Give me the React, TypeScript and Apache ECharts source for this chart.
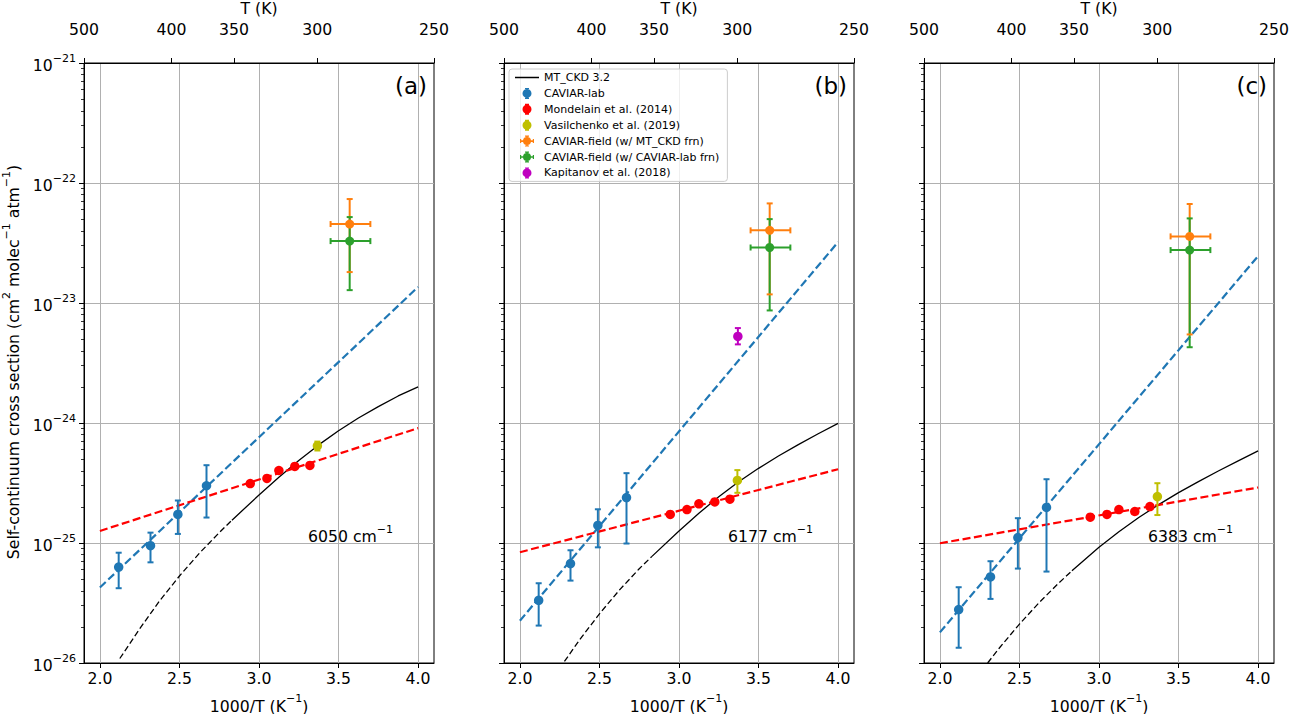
import React, { useEffect, useRef } from 'react';
import * as echarts from 'echarts';

// x positions are 1000/T (K^-1)
const labX = [2.118, 2.318, 2.49, 2.67];
const mondelainX = [2.945, 3.05, 3.125, 3.225, 3.32];
const vasilchenkoX = 3.367;
const kapitanovX = 3.37;
const fieldX = 3.57;
const fieldXErr = [3.45, 3.7];
const fitX = [2.0, 4.0];
const invTTicks = [2.0, 2.5, 3.0, 3.5, 4.0];
const tempTicks = [500, 400, 350, 300, 250];
const mtckdSplitX = 2.83; // MT_CKD drawn dashed on the hot side of this

// (a) 6050 cm-1
const labA = [6.3e-26, 9.5e-26, 1.73e-25, 3.0e-25];
const labLowA = [4.2e-26, 6.9e-26, 1.19e-25, 1.63e-25];
const labHighA = [8.3e-26, 1.22e-25, 2.26e-25, 4.45e-25];
const mondelainA = [3.13e-25, 3.45e-25, 4.02e-25, 4.35e-25, 4.43e-25];
const vasilchenkoA = [6.45e-25, 5.9e-25, 7.0e-25]; // value, low, high
const fieldMtckdA = [4.55e-23, 1.81e-23, 7.35e-23];
const fieldLabA = [3.28e-23, 1.28e-23, 5.2e-23];
const fitLabA = [4.26e-26, 1.36e-23];
const fitMondelainA = [1.26e-25, 9.06e-25];
const mtckdXA = [2.125, 2.25, 2.375, 2.5, 2.625, 2.75, 2.83, 3.0, 3.125, 3.25, 3.375, 3.5, 3.625, 3.75, 3.875, 4.0];
const mtckdA = [1.09e-26, 1.93e-26, 3.29e-26, 5.31e-26, 8.22e-26, 1.22e-25, 1.55e-25, 2.51e-25, 3.53e-25, 4.87e-25, 6.57e-25, 8.61e-25, 1.1e-24, 1.37e-24, 1.68e-24, 2.0e-24];

// (b) 6177 cm-1
const labB = [3.33e-26, 6.74e-26, 1.4e-25, 2.39e-25];
const labLowB = [2.05e-26, 4.86e-26, 9.2e-26, 9.9e-26];
const labHighB = [4.62e-26, 8.7e-26, 1.91e-25, 3.82e-25];
const mondelainB = [1.73e-25, 1.9e-25, 2.12e-25, 2.2e-25, 2.32e-25];
const vasilchenkoB = [3.32e-25, 2.62e-25, 4.05e-25];
const fieldMtckdB = [4.03e-23, 1.18e-23, 6.76e-23];
const fieldLabB = [2.9e-23, 8.67e-24, 5.0e-23];
const kapitanovB = [5.26e-24, 4.52e-24, 6.18e-24];
const fitLabB = [2.25e-26, 3.22e-23];
const fitMondelainB = [8.38e-26, 4.12e-25];
const mtckdXB = [2.28, 2.375, 2.5, 2.625, 2.75, 2.83, 3.0, 3.125, 3.25, 3.375, 3.5, 3.625, 3.75, 3.875, 4.0];
const mtckdB = [1.03e-26, 1.56e-26, 2.57e-26, 4.05e-26, 6.1e-26, 7.74e-26, 1.26e-25, 1.77e-25, 2.43e-25, 3.24e-25, 4.19e-25, 5.31e-25, 6.61e-25, 8.13e-25, 9.94e-25];

// (c) 6383 cm-1
const labC = [2.79e-26, 5.21e-26, 1.11e-25, 1.98e-25];
const labLowC = [1.34e-26, 3.42e-26, 6.12e-26, 5.78e-26];
const labHighC = [4.28e-26, 7.05e-26, 1.61e-25, 3.4e-25];
const mondelainC = [1.64e-25, 1.73e-25, 1.9e-25, 1.83e-25, 2.01e-25];
const vasilchenkoC = [2.44e-25, 1.71e-25, 3.15e-25];
const fieldMtckdC = [3.59e-23, 5.47e-24, 6.68e-23];
const fieldLabC = [2.76e-23, 4.28e-24, 5.07e-23];
const fitLabC = [1.8e-26, 2.46e-23];
const fitMondelainC = [9.95e-26, 2.9e-25];
const mtckdXC = [2.3, 2.375, 2.5, 2.625, 2.75, 2.83, 3.0, 3.125, 3.25, 3.375, 3.5, 3.625, 3.75, 3.875, 4.0];
const mtckdC = [1.0e-26, 1.34e-26, 2.11e-26, 3.2e-26, 4.68e-26, 5.86e-26, 9.23e-26, 1.24e-25, 1.63e-25, 2.09e-25, 2.63e-25, 3.25e-25, 3.98e-25, 4.84e-25, 5.86e-25];

const panels = [
  { tag: '(a)', wavenumber: '6050', lab: labA, labLow: labLowA, labHigh: labHighA, mondelain: mondelainA, vasilchenko: vasilchenkoA, fieldMtckd: fieldMtckdA, fieldLab: fieldLabA, kapitanov: null as number[] | null, fitLab: fitLabA, fitMondelain: fitMondelainA, mtckdX: mtckdXA, mtckd: mtckdA },
  { tag: '(b)', wavenumber: '6177', lab: labB, labLow: labLowB, labHigh: labHighB, mondelain: mondelainB, vasilchenko: vasilchenkoB, fieldMtckd: fieldMtckdB, fieldLab: fieldLabB, kapitanov: kapitanovB, fitLab: fitLabB, fitMondelain: fitMondelainB, mtckdX: mtckdXB, mtckd: mtckdB },
  { tag: '(c)', wavenumber: '6383', lab: labC, labLow: labLowC, labHigh: labHighC, mondelain: mondelainC, vasilchenko: vasilchenkoC, fieldMtckd: fieldMtckdC, fieldLab: fieldLabC, kapitanov: null, fitLab: fitLabC, fitMondelain: fitMondelainC, mtckdX: mtckdXC, mtckd: mtckdC },
];

const FONT = 'DejaVu Sans';
const BLUE = '#1f77b4';
const ORANGE = '#ff7f0e';
const GREEN = '#2ca02c';
const RED = '#ff0000';
const YELLOW = '#bfbf00';
const MAGENTA = '#bf00bf';

const GRID_LEFT = [84, 504, 924];
const GRID_TOP = 63;
const GRID_W = 350;
const GRID_H = 600;

const lg = (v: number) => Math.log10(v);

// minor ticks of the log axis, 2..9 x 10^n
const minorTicks: number[] = [];
for (let n = -26; n < -21; n++) {
  for (let k = 2; k <= 9; k++) minorTicks.push(n + Math.log10(k));
}

const supRich = {
  b: { fontSize: 15.7, fontFamily: FONT, lineHeight: 21, verticalAlign: 'bottom', color: '#000', fill: '#000' },
  s: { fontSize: 11, fontFamily: FONT, lineHeight: 11, verticalAlign: 'top', color: '#000', fill: '#000' },
};

const anchors = 'M0,0h0.01v0.01h-0.01z M23.99,10.99h0.01v0.01h-0.01z ';
const lineIcon = 'path://' + anchors + 'M0,4.7H24V6.3H0Z';
const barIcon = 'path://' + anchors +
  'M11.2,0H12.8V11H11.2Z M10,0H14V1.2H10Z M10,9.8H14V11H10Z M7.5,5.5A4.5,4.5 0 1 1 16.5,5.5A4.5,4.5 0 1 1 7.5,5.5Z';
const plusIcon = 'path://' + anchors +
  'M11.2,0H12.8V11H11.2Z M10,0H14V1.2H10Z M10,9.8H14V11H10Z M6,4.7H18V6.3H6Z M5,3.5H6.2V7.5H5Z M17.8,3.5H19V7.5H17.8Z M8,5.5A4,4 0 1 1 16,5.5A4,4 0 1 1 8,5.5Z';

// error bars: items are [x, y, low, high, xlow, xhigh]
const errorSeries = (grid: number, name: string, color: string, items: number[][], part: 'bar' | 'cap') => ({
  type: 'custom',
  name,
  xAxisIndex: grid * 2,
  yAxisIndex: grid * 2,
  silent: true,
  z: part === 'bar' ? 3 : 4,
  data: items,
  encode: { x: 0, y: 1 },
  renderItem: (params: any, api: any) => {
    const x = api.value(0), y = api.value(1);
    const lo = api.value(2), hi = api.value(3);
    const xlo = api.value(4), xhi = api.value(5);
    const pLo = api.coord([x, lo]);
    const pHi = api.coord([x, hi]);
    const style = { stroke: color, lineWidth: 2 };
    const children: any[] = [];
    const seg = (x1: number, y1: number, x2: number, y2: number) =>
      children.push({ type: 'line', shape: { x1, y1, x2, y2 }, style });
    if (part === 'bar') {
      seg(pLo[0], pLo[1], pHi[0], pHi[1]);
      if (xhi > xlo) {
        const a = api.coord([xlo, y]);
        const b = api.coord([xhi, y]);
        seg(a[0], a[1], b[0], b[1]);
      }
    } else {
      seg(pLo[0] - 3, pLo[1], pLo[0] + 3, pLo[1]);
      seg(pHi[0] - 3, pHi[1], pHi[0] + 3, pHi[1]);
      if (xhi > xlo) {
        const a = api.coord([xlo, y]);
        const b = api.coord([xhi, y]);
        seg(a[0], a[1] - 3, a[0], a[1] + 3);
        seg(b[0], b[1] - 3, b[0], b[1] + 3);
      }
    }
    return { type: 'group', children };
  },
});

const buildOption = () => {
  const grid: any[] = [];
  const xAxis: any[] = [];
  const yAxis: any[] = [];
  const series: any[] = [];
  const graphic: any[] = [];

  panels.forEach((p, i) => {
    grid.push({
      left: GRID_LEFT[i], top: GRID_TOP, width: GRID_W, height: GRID_H,
      containLabel: false, outerBoundsMode: 'none',
      show: true, borderColor: '#000', borderWidth: 1, backgroundColor: '#fff',
    });

    // bottom: 1000/T
    xAxis.push({
      gridIndex: i, type: 'value', min: 1.9, max: 4.1, position: 'bottom',
      axisLine: { show: true, onZero: false, lineStyle: { color: '#000', width: 1 } },
      axisTick: { show: true, length: 5, customValues: invTTicks, lineStyle: { color: '#000', width: 1 } },
      axisLabel: {
        customValues: invTTicks, formatter: (v: number) => v.toFixed(1),
        color: '#000', fontSize: 15.7, fontFamily: FONT, margin: 7,
      },
      splitLine: { show: true, lineStyle: { color: '#b0b0b0', width: 1 } },
      name: '{b|1000/T (K}{s|−1}{b|)}',
      nameLocation: 'middle', nameGap: 30,
      nameTextStyle: { rich: supRich },
    });
    // top: T (K)
    xAxis.push({
      gridIndex: i, type: 'value', min: 2, max: 4, position: 'top',
      axisLine: { show: true, onZero: false, lineStyle: { color: '#000', width: 1 } },
      axisTick: { show: true, length: 5, customValues: tempTicks.map(t => 1000 / t), lineStyle: { color: '#000', width: 1 } },
      axisLabel: {
        customValues: tempTicks.map(t => 1000 / t), formatter: (v: number) => String(Math.round(1000 / v)),
        color: '#000', fontSize: 15.7, fontFamily: FONT, margin: 26,
      },
      splitLine: { show: false },
      name: 'T (K)', nameLocation: 'middle', nameGap: 46,
      nameTextStyle: { color: '#000', fontSize: 15.7, fontFamily: FONT },
    });
    // log10 of cross section
    yAxis.push({
      gridIndex: i, type: 'value', min: -26, max: -21, interval: 1, position: 'left',
      axisLine: { show: true, onZero: false, lineStyle: { color: '#000', width: 1 } },
      axisTick: { show: true, length: 5, lineStyle: { color: '#000', width: 1 } },
      axisLabel: {
        show: i === 0, margin: 8,
        formatter: (v: number) => `{b|10}{s|−${Math.abs(v)}}`,
        rich: supRich,
      },
      splitLine: { show: true, lineStyle: { color: '#b0b0b0', width: 1 } },
    });
    // minor ticks only
    yAxis.push({
      gridIndex: i, type: 'value', min: -26, max: -21, position: 'left',
      axisLine: { show: false }, axisLabel: { show: false }, splitLine: { show: false },
      axisTick: { show: true, length: 3, customValues: minorTicks, lineStyle: { color: '#000', width: 0.8 } },
    });

    const xi = i * 2;
    const yi = i * 2;
    const ckd = p.mtckdX.map((x, j) => [x, lg(p.mtckd[j])]);
    series.push({
      type: 'line', name: 'MT_CKD extrapolated', xAxisIndex: xi, yAxisIndex: yi, silent: true, z: 2,
      data: ckd.filter(d => d[0] <= mtckdSplitX), symbol: 'none',
      lineStyle: { color: '#000', width: 1.3, type: [6, 3] },
    });
    series.push({
      type: 'line', name: 'MT_CKD 3.2', xAxisIndex: xi, yAxisIndex: yi, silent: true, z: 2,
      data: ckd.filter(d => d[0] >= mtckdSplitX), symbol: 'none',
      itemStyle: { color: '#000' }, lineStyle: { color: '#000', width: 1.3 },
    });
    series.push({
      type: 'line', name: 'fit CAVIAR-lab', xAxisIndex: xi, yAxisIndex: yi, silent: true, z: 2,
      data: fitX.map((x, j) => [x, lg(p.fitLab[j])]), symbol: 'none',
      lineStyle: { color: BLUE, width: 2.2, type: [8, 3.5] },
    });
    series.push({
      type: 'line', name: 'fit Mondelain', xAxisIndex: xi, yAxisIndex: yi, silent: true, z: 2,
      data: fitX.map((x, j) => [x, lg(p.fitMondelain[j])]), symbol: 'none',
      lineStyle: { color: RED, width: 2.2, type: [8, 3.5] },
    });

    const groups: { name: string; color: string; size: number; items: number[][]; err: boolean }[] = [];
    groups.push({
      name: 'CAVIAR-lab', color: BLUE, size: 9.5, err: true,
      items: labX.map((x, j) => [x, lg(p.lab[j]), lg(p.labLow[j]), lg(p.labHigh[j]), x, x]),
    });
    groups.push({
      name: 'Mondelain et al. (2014)', color: RED, size: 9.5, err: false,
      items: mondelainX.map((x, j) => [x, lg(p.mondelain[j]), lg(p.mondelain[j]), lg(p.mondelain[j]), x, x]),
    });
    groups.push({
      name: 'Vasilchenko et al. (2019)', color: YELLOW, size: 9.5, err: true,
      items: [[vasilchenkoX, lg(p.vasilchenko[0]), lg(p.vasilchenko[1]), lg(p.vasilchenko[2]), vasilchenkoX, vasilchenkoX]],
    });
    groups.push({
      name: 'CAVIAR-field (w/ MT_CKD frn)', color: ORANGE, size: 9, err: true,
      items: [[fieldX, lg(p.fieldMtckd[0]), lg(p.fieldMtckd[1]), lg(p.fieldMtckd[2]), fieldXErr[0], fieldXErr[1]]],
    });
    groups.push({
      name: 'CAVIAR-field (w/ CAVIAR-lab frn)', color: GREEN, size: 9, err: true,
      items: [[fieldX, lg(p.fieldLab[0]), lg(p.fieldLab[1]), lg(p.fieldLab[2]), fieldXErr[0], fieldXErr[1]]],
    });
    if (p.kapitanov) {
      const k = p.kapitanov;
      groups.push({
        name: 'Kapitanov et al. (2018)', color: MAGENTA, size: 9.5, err: true,
        items: [[kapitanovX, lg(k[0]), lg(k[1]), lg(k[2]), kapitanovX, kapitanovX]],
      });
    }

    groups.forEach(g => {
      if (g.err) series.push(errorSeries(i, g.name + ' err', g.color, g.items, 'bar'));
    });
    groups.forEach(g => {
      if (g.err) series.push(errorSeries(i, g.name + ' caps', g.color, g.items, 'cap'));
    });
    groups.forEach(g => {
      series.push({
        type: 'scatter', name: g.name, xAxisIndex: xi, yAxisIndex: yi, silent: true, z: 5,
        symbol: 'circle', symbolSize: g.size,
        itemStyle: { color: g.color, opacity: 1 },
        data: g.items.map(d => [d[0], d[1]]),
      });
    });

    // panel tag and wavenumber
    graphic.push({
      type: 'text', x: GRID_LEFT[i] + 343, y: 86, z: 10, silent: true,
      style: { text: p.tag, fontSize: 23, fontFamily: FONT, fill: '#000', align: 'right', verticalAlign: 'middle' },
    });
    graphic.push({
      type: 'text', x: GRID_LEFT[i] + 224, y: 534, z: 10, silent: true,
      style: {
        text: `{b|${p.wavenumber} cm}{s|−1}`, rich: supRich,
        align: 'left', verticalAlign: 'middle', fill: '#000',
      },
    });
  });

  graphic.push({
    type: 'text', x: 11, y: 362, rotation: Math.PI / 2, z: 10, silent: true,
    style: {
      text: '{b|Self-continuum cross section (cm}{s|2}{b| molec}{s|−1}{b| atm}{s|−1}{b|)}',
      rich: supRich, align: 'center', verticalAlign: 'middle', fill: '#000',
    },
  });

  return {
    animation: false,
    backgroundColor: '#fff',
    textStyle: { fontFamily: FONT },
    grid, xAxis, yAxis, series, graphic,
    legend: {
      left: 509, top: 69, orient: 'vertical',
      itemWidth: 24, itemHeight: 11, itemGap: 4.9,
      padding: [3, 8, 3, 6],
      borderColor: '#cccccc', borderWidth: 1, borderRadius: 3,
      backgroundColor: 'rgba(255,255,255,0.8)',
      selectedMode: false, z: 20,
      textStyle: { fontSize: 11, fontFamily: FONT, color: '#000' },
      data: [
        { name: 'MT_CKD 3.2', icon: lineIcon },
        { name: 'CAVIAR-lab', icon: barIcon },
        { name: 'Mondelain et al. (2014)', icon: barIcon },
        { name: 'Vasilchenko et al. (2019)', icon: barIcon },
        { name: 'CAVIAR-field (w/ MT_CKD frn)', icon: plusIcon },
        { name: 'CAVIAR-field (w/ CAVIAR-lab frn)', icon: plusIcon },
        { name: 'Kapitanov et al. (2018)', icon: barIcon },
      ],
    },
  };
};

const App: React.FC = () => {
  const chartRef = useRef<HTMLDivElement>(null);

  useEffect(() => {
    if (!chartRef.current) return;
    const chart = echarts.init(chartRef.current, null, { renderer: 'svg' });
    chart.setOption(buildOption() as any);
    return () => {
      chart.dispose();
    };
  }, []);

  return (
    <div
      ref={chartRef}
      style={{ position: 'fixed', left: 0, top: 0, width: 1289, height: 714, background: '#fff' }}
    />
  );
};

export default App;
